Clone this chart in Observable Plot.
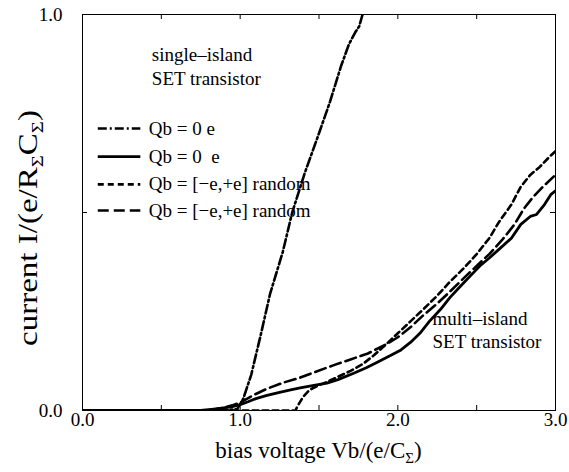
<!DOCTYPE html>
<html><head><meta charset="utf-8">
<script src="https://cdn.jsdelivr.net/npm/d3@7"></script>
<script src="https://cdn.jsdelivr.net/npm/@observablehq/plot@0.6"></script>
<style>
body{margin:0;background:#fff}
svg, svg text{font-family:'Liberation Serif','Times New Roman',serif !important}
</style>
</head><body><div id="chart"></div>
<script>
// ---- data ----
const seriesNames = ["Qb = 0 e", "Qb = 0\u00a0 e", "Qb = [\u2212e,+e] random", "Qb = [\u2212e,+e] random"];

const singleV = [0, 0.80, 0.98, 1.02, 1.07, 1.13, 1.19, 1.27, 1.33, 1.41, 1.50, 1.57, 1.64, 1.69, 1.73, 1.755, 1.776];
const singleI = [0, 0, 0.003, 0.03, 0.09, 0.19, 0.295, 0.40, 0.50, 0.60, 0.70, 0.78, 0.87, 0.925, 0.955, 0.97, 1.0];

const solidV = [0, 0.75, 0.85, 0.95, 1.0, 1.05, 1.1, 1.17, 1.25, 1.32, 1.38, 1.45, 1.55, 1.62, 1.72, 1.80, 1.87, 1.95, 2.02, 2.08, 2.14, 2.2, 2.27, 2.33, 2.4, 2.46, 2.52, 2.58, 2.65, 2.72, 2.78, 2.84, 2.88, 2.93, 2.97, 3.0];
const solidI = [0, 0, 0.004, 0.01, 0.015, 0.022, 0.03, 0.038, 0.046, 0.052, 0.057, 0.062, 0.069, 0.078, 0.094, 0.108, 0.122, 0.138, 0.153, 0.172, 0.195, 0.225, 0.255, 0.285, 0.315, 0.34, 0.365, 0.385, 0.41, 0.435, 0.47, 0.49, 0.495, 0.52, 0.545, 0.555];

const shortV = [0, 1.0, 1.35, 1.37, 1.40, 1.44, 1.50, 1.55, 1.62, 1.70, 1.78, 1.85, 1.92, 2.0, 2.08, 2.16, 2.25, 2.33, 2.42, 2.5, 2.58, 2.64, 2.72, 2.78, 2.84, 2.9, 2.96, 3.0];
const shortI = [0, 0, 0, 0.015, 0.035, 0.052, 0.064, 0.072, 0.085, 0.1, 0.118, 0.14, 0.165, 0.195, 0.225, 0.255, 0.29, 0.325, 0.36, 0.395, 0.435, 0.475, 0.52, 0.565, 0.595, 0.615, 0.64, 0.655];

const longV = [0, 0.78, 0.88, 0.95, 1.0, 1.08, 1.17, 1.27, 1.38, 1.48, 1.59, 1.70, 1.81, 1.93, 2.0, 2.08, 2.16, 2.25, 2.33, 2.42, 2.5, 2.58, 2.66, 2.74, 2.8, 2.86, 2.92, 3.0];
const longI = [0, 0, 0.006, 0.013, 0.02, 0.038, 0.055, 0.07, 0.083, 0.098, 0.114, 0.129, 0.144, 0.168, 0.185, 0.21, 0.24, 0.27, 0.30, 0.335, 0.365, 0.395, 0.43, 0.47, 0.51, 0.54, 0.565, 0.595];

const xTickLabels = [0, 1, 2, 3];
const yTickLabels = [0, 1];
const xMinorTicks = [0.5, 1, 1.5, 2, 2.5];
const yMinorTicks = [0.5];

// ---- styles / layout ----
const FONT = "'Liberation Serif','Times New Roman',serif";
const W = 569, H = 472, mL = 82, mR = 14, mT = 14, mB = 62;
const fw = W - mL - mR, fh = H - mT - mB;
const fmt = d3.format(".1f");
const styles = [
  {v: singleV, i: singleI, dash: "9,3,2,3", sw: 2.6},
  {v: solidV, i: solidI, dash: null, sw: 2.8},
  {v: shortV, i: shortI, dash: "6,4", sw: 2.6},
  {v: longV, i: longI, dash: "11,5", sw: 2.6}
];
const legendX1 = 0.10, legendX2 = 0.37, legendTextX = 0.42;
const legendY = [0.712, 0.641, 0.571, 0.505];

const marks = [];
styles.forEach((s, k) => {
  const rows = s.v.map((v, j) => ({v, i: s.i[j]}));
  const opt = {x: "v", y: "i", stroke: "#000", strokeWidth: s.sw, strokeLinejoin: "round", clip: true};
  if (s.dash) opt.strokeDasharray = s.dash;
  marks.push(Plot.line(rows, opt));
  const lopt = {x1: legendX1, x2: legendX2, stroke: "#000", strokeWidth: s.sw};
  if (s.dash) lopt.strokeDasharray = s.dash;
  marks.push(Plot.ruleY([0], {...lopt, y: () => legendY[k]}));
  marks.push(Plot.text([seriesNames[k]], {x: legendTextX, y: legendY[k], text: d => d, textAnchor: "start", fontSize: 19, fill: "#000", fontFamily: FONT}));
});

const notes = [
  {x: 0.44, y: 0.898, t: "single\u2013island"},
  {x: 0.44, y: 0.838, t: "SET transistor"},
  {x: 2.22, y: 0.232, t: "multi\u2013island"},
  {x: 2.22, y: 0.174, t: "SET transistor"}
];

const chart = Plot.plot({
  width: W, height: H,
  marginLeft: mL, marginRight: mR, marginTop: mT, marginBottom: mB,
  style: {fontFamily: FONT, background: "#fff", color: "#000"},
  x: {domain: [0, 3], axis: null},
  y: {domain: [0, 1], axis: null},
  marks: [
    ...marks,
    Plot.text(notes, {x: "x", y: "y", text: "t", textAnchor: "start", fontSize: 19, fill: "#000", fontFamily: FONT}),
    Plot.ruleX(xMinorTicks, {stroke: "#000", insetTop: fh - 5}),
    Plot.ruleX(xMinorTicks, {stroke: "#000", insetBottom: fh - 5}),
    Plot.ruleY(yMinorTicks, {stroke: "#000", insetRight: fw - 5}),
    Plot.ruleY(yMinorTicks, {stroke: "#000", insetLeft: fw - 5}),
    Plot.frame({stroke: "#000", strokeWidth: 1}),
    Plot.text(xTickLabels, {x: d => d, frameAnchor: "bottom", dy: 15, text: fmt, fontSize: 19, fill: "#000", fontFamily: FONT, clip: false}),
    Plot.text(yTickLabels, {y: d => d, frameAnchor: "left", dx: -20, textAnchor: "end", text: fmt, fontSize: 19, fill: "#000", fontFamily: FONT, clip: false})
  ]
});
document.getElementById("chart").appendChild(chart);

// axis titles with subscript sigma
const svg = d3.select(chart);
svg.style("font-family", FONT);
const xt = svg.append("text").attr("x", mL + fw / 2).attr("y", 458).attr("text-anchor", "middle")
  .attr("font-size", 23).attr("fill", "#000").attr("font-family", FONT);
xt.append("tspan").text("bias voltage Vb/(e/C");
xt.append("tspan").attr("font-size", 15).attr("dy", 5).text("\u03a3");
xt.append("tspan").attr("dy", -5).text(")");

const yt = svg.append("text").attr("transform", `translate(37,${228}) rotate(-90)`)
  .attr("text-anchor", "middle").attr("font-size", 27).attr("fill", "#000").attr("font-family", FONT)
  .attr("textLength", 236).attr("lengthAdjust", "spacingAndGlyphs");
yt.append("tspan").text("current I/(e/R");
yt.append("tspan").attr("font-size", 17).attr("dy", 6).text("\u03a3");
yt.append("tspan").attr("dy", -6).text("C");
yt.append("tspan").attr("font-size", 17).attr("dy", 6).text("\u03a3");
yt.append("tspan").attr("dy", -6).text(")");
</script>
</body></html>
